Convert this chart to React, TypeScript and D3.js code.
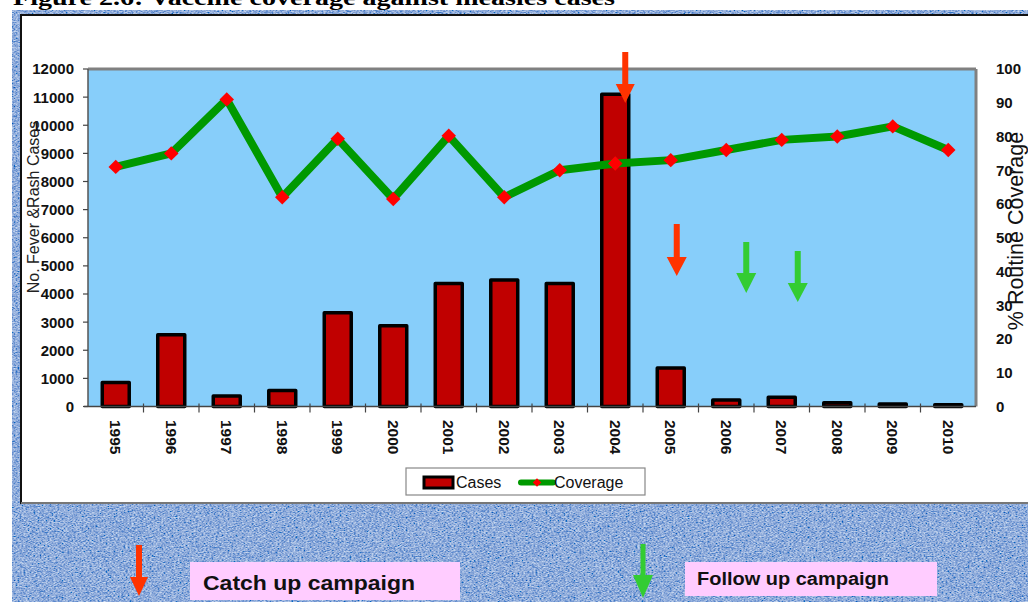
import React from "react";
import * as d3 from "d3";

const years = ["1995","1996","1997","1998","1999","2000","2001","2002","2003","2004","2005","2006","2007","2008","2009","2010"];
const cases = [850, 2550, 370, 570, 3330, 2870, 4370, 4500, 4370, 11100, 1370, 230, 330, 130, 90, 60];
const coverage = [71, 75, 91, 62, 79.3, 61.5, 80.2, 62, 70, 72, 73, 76, 79, 80, 83, 76];
const leftTicks = [0,1000,2000,3000,4000,5000,6000,7000,8000,9000,10000,11000,12000];
const rightTicks = [0,10,20,30,40,50,60,70,80,90,100];
const catchUpYears = ["2004","2005"];
const followUpYears = ["2006","2007"];

const W = 1028, H = 602;
const PL = 88, PR = 976, PT = 69, PB = 406.5;

function Arrow({ cx, top, headTop, tip, color, shaftW = 6, headW = 19 }: any) {
  const d = `M${cx - shaftW / 2},${top} L${cx + shaftW / 2},${top} L${cx + shaftW / 2},${headTop} L${cx + headW / 2},${headTop} L${cx},${tip} L${cx - headW / 2},${headTop} L${cx - shaftW / 2},${headTop} Z`;
  return <path d={d} fill={color} />;
}

export default function App() {
  const x = d3.scaleBand<string>().domain(years).range([PL, PR]).paddingInner(0.514).paddingOuter(0.257);
  const yL = d3.scaleLinear().domain([0, 12000]).range([PB, PT]);
  const yR = d3.scaleLinear().domain([0, 100]).range([PB, PT]);
  const cx = (y: string) => (x(y) as number) + x.bandwidth() / 2;
  const step = x.step();
  const line = d3.line<number>().x((_, i) => cx(years[i])).y((d) => yR(d));
  const diamond = d3.symbol().type(d3.symbolSquare).size(105)();
  const smallDiamond = d3.symbol().type(d3.symbolSquare).size(36)();

  const axisFont = "'Liberation Sans', Arial, sans-serif";

  return (
    <svg width={W} height={H} style={{ position: "absolute", left: 0, top: 0 }} xmlns="http://www.w3.org/2000/svg">
      <defs>
        <filter id="denim" filterUnits="userSpaceOnUse" x={12} y={10} width={W - 12} height={H - 10}>
          <feTurbulence type="fractalNoise" baseFrequency="0.5 1.2" numOctaves="2" seed="3" result="n" />
          <feColorMatrix in="n" type="matrix" values="0.95 0 0 0 -0.2  0.9 0 0 0 -0.04  0.55 0 0 0 0.43  0 0 0 0 1" />
        </filter>
      </defs>
      <rect x={0} y={0} width={W} height={H} fill="#ffffff" />
      {/* textured frame */}
      <rect x={12} y={10} width={W - 12} height={H - 10} fill="#4f6fae" filter="url(#denim)" />
      {/* title, partially cut off at top */}
      <text x={13} y={5} fontFamily="'Liberation Serif', 'Times New Roman', serif" fontWeight="bold" fontSize={22} textLength={602} lengthAdjust="spacingAndGlyphs" fill="#000">
        Figure 2.6: Vaccine coverage against measles cases
      </text>
      <rect x={21} y={15} width={1020} height={488} fill="#ffffff" stroke="#111" strokeWidth={2} />
      <line x1={21} y1={503} x2={W} y2={503} stroke="#777" strokeWidth={2} />

      {/* plot area */}
      <rect x={PL} y={PT} width={PR - PL} height={PB - PT} fill="#87CEFA" />
      <line x1={PL} y1={PT} x2={PR} y2={PT} stroke="#808080" strokeWidth={3} />
      <line x1={PR} y1={PT} x2={PR} y2={PB} stroke="#808080" strokeWidth={3} />
      <line x1={PL} y1={PT} x2={PL} y2={PB} stroke="#555" strokeWidth={1.5} />

      {/* left ticks */}
      {leftTicks.map((t) => (
        <g key={"l" + t}>
          <line x1={PL - 5} x2={PL} y1={yL(t)} y2={yL(t)} stroke="#444" strokeWidth={1.2} />
          <text x={74} y={yL(t)} dy="0.36em" textAnchor="end" fontFamily={axisFont} fontWeight="bold" fontSize={15} fill="#111">{t}</text>
        </g>
      ))}
      {/* right ticks */}
      {rightTicks.map((t) => (
        <text key={"r" + t} x={996} y={yR(t)} dy="0.36em" textAnchor="start" fontFamily={axisFont} fontWeight="bold" fontSize={15} fill="#111">{t}</text>
      ))}

      {/* bars */}
      {years.map((yv, i) => (
        <rect key={yv} x={x(yv)} y={yL(cases[i])} width={x.bandwidth()} height={PB - yL(cases[i])} fill="#C00000" stroke="#000" strokeWidth={3.5} strokeLinejoin="round" />
      ))}

      {/* x axis */}
      <line x1={PL - 4} x2={PR} y1={PB} y2={PB} stroke="#444" strokeWidth={1.5} />
      {years.slice(1).map((yv, i) => (
        <line key={"t" + yv} x1={PL + (i + 1) * step} x2={PL + (i + 1) * step} y1={PB - 3} y2={PB + 6} stroke="#444" strokeWidth={1.2} />
      ))}
      {years.map((yv) => (
        <text key={"x" + yv} transform={`translate(${cx(yv)},${420}) rotate(90)`} dy="0.36em" textAnchor="start" fontFamily={axisFont} fontWeight="bold" fontSize={15.5} fill="#111">{yv}</text>
      ))}

      {/* coverage line */}
      <path d={line(coverage) || ""} fill="none" stroke="#009900" strokeWidth={8} strokeLinejoin="round" />
      {coverage.map((c, i) => (
        <path key={"m" + i} d={diamond || ""} transform={`translate(${cx(years[i])},${yR(c)}) rotate(45)`} fill="#FF0000" />
      ))}

      {/* axis titles */}
      <text transform={`translate(39,207) rotate(-90)`} textAnchor="middle" fontFamily={axisFont} fontSize={16} fill="#222">No. Fever &amp;Rash  Cases</text>
      <text transform={`translate(1023,231) rotate(-90)`} textAnchor="middle" fontFamily={axisFont} fontSize={21.5} fill="#111">% Routine Coverage</text>

      {/* annotation arrows in plot */}
      <Arrow cx={cx(catchUpYears[0]) + 10} top={52} headTop={84} tip={103} color="#FF3300" shaftW={6} headW={19} />
      <Arrow cx={cx(catchUpYears[1]) + 6} top={224} headTop={257} tip={276} color="#FF3300" shaftW={6} headW={20} />
      <Arrow cx={cx(followUpYears[0]) + 20} top={242} headTop={273} tip={293} color="#33CC33" shaftW={6} headW={20} />
      <Arrow cx={cx(followUpYears[1]) + 16} top={251} headTop={283} tip={302} color="#33CC33" shaftW={6} headW={20} />

      {/* legend */}
      <rect x={406} y={468} width={239} height={27} fill="#fff" stroke="#888" strokeWidth={1.2} />
      <rect x={424} y={477} width={29} height={11} fill="#C00000" stroke="#000" strokeWidth={3} />
      <text x={456} y={488} fontFamily={axisFont} fontSize={16} fill="#111">Cases</text>
      <line x1={521} x2={553} y1={482.5} y2={482.5} stroke="#009900" strokeWidth={6} strokeLinecap="round" />
      <path d={smallDiamond || ""} transform="translate(537,482.5) rotate(45)" fill="#FF0000" />
      <text x={554} y={488} fontFamily={axisFont} fontSize={16} fill="#111">Coverage</text>

      {/* bottom key */}
      <Arrow cx={139} top={545} headTop={577} tip={596} color="#FF3300" shaftW={6} headW={18} />
      <rect x={190} y={562} width={270} height={38} fill="#FFCCFF" />
      <text x={203} y={590} fontFamily={axisFont} fontWeight="bold" fontSize={21} textLength={212} lengthAdjust="spacingAndGlyphs" fill="#111">Catch up campaign</text>
      <Arrow cx={643} top={544} headTop={575} tip={598} color="#33CC33" shaftW={5} headW={20} />
      <rect x={685} y={562} width={252} height={34} fill="#FFCCFF" />
      <text x={697} y={585} fontFamily={axisFont} fontWeight="bold" fontSize={18} textLength={192} lengthAdjust="spacingAndGlyphs" fill="#111">Follow up campaign</text>
    </svg>
  );
}
